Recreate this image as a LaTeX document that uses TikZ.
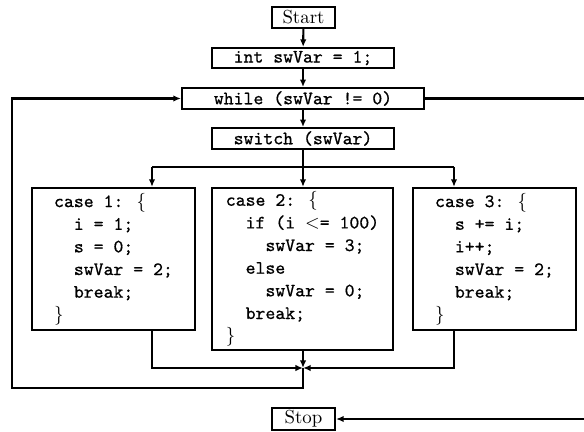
\documentclass[tikz,border=0pt]{standalone}
\usepackage{fontspec}
\usetikzlibrary{arrows.meta,calc}
\newfontfamily\codefont[FakeBold=0.7]{Latin Modern Mono}
\begin{document}
\begin{tikzpicture}[x=0.53pt,y=-0.53pt,
  box/.style={draw,line width=1.1pt,inner sep=0pt,minimum height=11pt},
  codebox/.style={box,font=\codefont,align=left},
  casebox/.style={box,font=\codefont,align=left,minimum width=86.4pt,minimum height=75.3pt},
  conn/.style={line width=1.1pt},
  arr/.style={conn,-{Latex[length=4pt,width=3.4pt]}}]
\useasboundingbox (0,0) rectangle (584,432);
\newcommand{\ind}{\phantom{xx}}

% main chain
\node[box,minimum width=33.4pt] (start) at (303.5,17.5) {Start};
\node[codebox,minimum width=96.5pt,minimum height=10.6pt] (init) at (303,58) {int swVar = 1;};
\node[codebox,minimum width=128.3pt] (loop) at (303,98.5) {while (swVar != 0)};
\node[codebox,minimum width=96.5pt] (sw) at (303,138.5) {switch (swVar)};

% the three cases
\node[casebox] (c1) at (113.5,259) {case 1: $\{$\\\ind i = 1;\\\ind s = 0;\\\ind swVar = 2;\\\ind break;\\$\}$};
\node[casebox,minimum width=95.9pt,minimum height=85.9pt] (c2) at (302.5,269) {case 2: $\{$\\\ind if (i $<$= 100)\\\ind\ind swVar = 3;\\\ind else\\\ind\ind swVar = 0;\\\ind break;\\$\}$};
\node[casebox] (c3) at (494.5,259) {case 3: $\{$\\\ind s += i;\\\ind i++;\\\ind swVar = 2;\\\ind break;\\$\}$};

\node[box,minimum width=33.4pt,minimum height=11.6pt] (stop) at (303.5,419) {Stop};

% branch and merge points
\coordinate (split) at (303,167);
\coordinate (b1) at (152,167);
\coordinate (b3) at (454,167);
\coordinate (merge) at (303,368);
\coordinate (back) at (303,388);
\coordinate (lft) at (12,388);
\coordinate (rgt) at (600,98.5);

\draw[arr] (start) -- (init);
\draw[arr] (init) -- (loop);
\draw[arr] (loop) -- (sw);
\draw[conn] (sw.south) -- (split);
\draw[conn] (b1) -- (b3);
\draw[arr] (split) -- (c2.north -| split);
\draw[arr] (b1) -- (c1.north -| b1);
\draw[arr] (b3) -- (c3.north -| b3);

\draw[arr] (c1.south -| b1) |- (merge);
\draw[arr] (c3.south -| b3) |- (merge);
\draw[arr] (c2.south -| merge) -- (merge);

\draw[arr] (merge) -- (back) -- (lft) |- (loop.west);
\draw[arr] (loop.east) -- (rgt) |- (stop.east);
\end{tikzpicture}
\end{document}
